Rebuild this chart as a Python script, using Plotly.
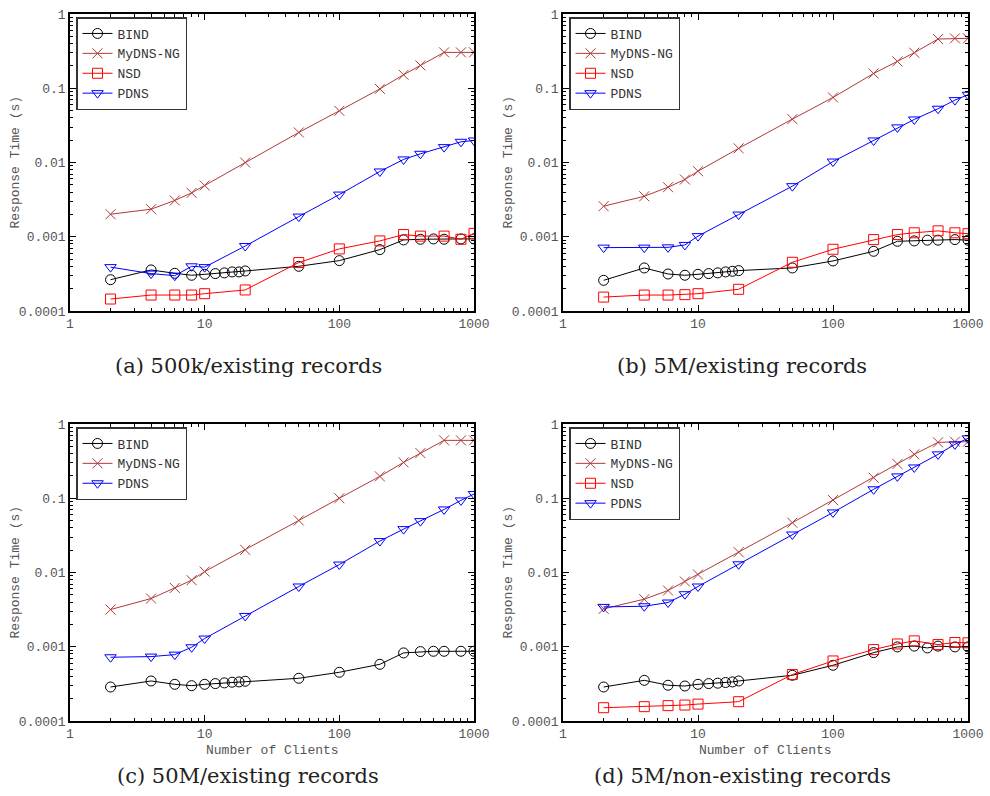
import plotly.graph_objects as go

# ---------------- data ----------------
x_bind = [2, 4, 6, 8, 10, 12, 14, 16, 18, 20, 50, 100, 200, 300, 400, 500, 600, 800, 1000]
x_other = [2, 4, 6, 8, 10, 20, 50, 100, 200, 300, 400, 600, 800, 1000]

# (a) 500k/existing records
a_bind = [0.000264, 0.000357, 0.000322, 0.000303, 0.000312, 0.000319, 0.000326, 0.000336, 0.000336, 0.000346,
          0.000400, 0.000477, 0.000671, 0.000906, 0.000925, 0.000935, 0.000925, 0.000935, 0.000935]
a_mydns = [0.00201, 0.00235, 0.00308, 0.0039, 0.0049, 0.0100, 0.0254, 0.0497, 0.098, 0.152, 0.203, 0.304, 0.304, 0.304]
a_nsd = [0.000145, 0.000164, 0.000164, 0.000164, 0.000171, 0.000192, 0.000449, 0.000686, 0.000879, 0.00107,
         0.00102, 0.00102, 0.000925, 0.00111]
a_pdns = [0.00039, 0.000319, 0.000299, 0.00040, 0.00039, 0.00075, 0.00187, 0.0037, 0.00757, 0.0110, 0.0131,
          0.0161, 0.0190, 0.0198]

# (b) 5M/existing records
b_bind = [0.000259, 0.000380, 0.000315, 0.000303, 0.000312, 0.000319, 0.000326, 0.000336, 0.000343, 0.000350,
          0.000380, 0.000472, 0.000637, 0.000869, 0.000879, 0.000900, 0.000900, 0.000916, 0.000900]
b_mydns = [0.00258, 0.00351, 0.00465, 0.0059, 0.00764, 0.0155, 0.0384, 0.0752, 0.158, 0.230, 0.301, 0.460, 0.470, 0.470]
b_nsd = [0.000154, 0.000164, 0.000164, 0.000166, 0.000171, 0.000196, 0.000453, 0.000678, 0.000916, 0.00107,
         0.00113, 0.00120, 0.00113, 0.00110]
b_pdns = [0.000714, 0.000714, 0.000720, 0.000776, 0.00102, 0.00199, 0.0048, 0.0103, 0.0198, 0.0297, 0.0380,
          0.0530, 0.0692, 0.0817]

# (c) 50M/existing records
c_bind = [0.000287, 0.000346, 0.000312, 0.000299, 0.000312, 0.000319, 0.000326, 0.000333, 0.000336, 0.000343,
          0.000376, 0.000453, 0.000580, 0.000826, 0.000861, 0.000869, 0.000869, 0.000869, 0.000869]
c_mydns = [0.00317, 0.00446, 0.0062, 0.00788, 0.0103, 0.0202, 0.0502, 0.100, 0.197, 0.304, 0.406, 0.602, 0.602, 0.602]
c_pdns = [0.000722, 0.000737, 0.000783, 0.000984, 0.00129, 0.0026, 0.00648, 0.0128, 0.0265, 0.0384, 0.0492,
          0.0707, 0.0935, 0.114]

# (d) 5M/non-existing records
d_bind = [0.000287, 0.000353, 0.000303, 0.000296, 0.000312, 0.000319, 0.000323, 0.000330, 0.000336, 0.000346,
          0.000413, 0.000563, 0.000834, 0.000995, 0.00102, 0.000964, 0.00102, 0.000995, 0.000995]
d_mydns = [0.00324, 0.00437, 0.00572, 0.00757, 0.0094, 0.0188, 0.0468, 0.0945, 0.189, 0.289, 0.390, 0.566, 0.578, 0.578]
d_nsd = [0.000151, 0.000156, 0.000161, 0.000164, 0.000169, 0.000182, 0.000422, 0.000644, 0.000916, 0.00109,
         0.00120, 0.00107, 0.00114, 0.00113]
d_pdns = [0.00344, 0.00351, 0.00394, 0.0051, 0.00648, 0.0129, 0.0325, 0.0644, 0.132, 0.197, 0.260, 0.390,
          0.532, 0.641]

captions = ["(a) 500k/existing records", "(b) 5M/existing records",
            "(c) 50M/existing records", "(d) 5M/non-existing records"]
x_title = "Number of Clients"
y_title = "Response Time (s)"

x_tickvals = [1, 10, 100, 1000]
x_ticktext = ["1", "10", "100", "1000"]
y_tickvals = [0.0001, 0.001, 0.01, 0.1, 1]
y_ticktext = ["0.0001", "0.001", "0.01", "0.1", "1"]
x_minor = [m * 10 ** e for e in range(0, 3) for m in range(2, 10)]
y_minor = [m * 10.0 ** e for e in range(-4, 0) for m in range(2, 10)]

# ---------------- styles ----------------
W, H = 990, 796
MONO = "Liberation Mono, DejaVu Sans Mono, monospace"
SERIF = "DejaVu Serif, Liberation Serif, serif"

styles = {
    "BIND": dict(color="#000000", symbol="circle-open", size=10),
    "MyDNS-NG": dict(color="#b03a3a", symbol="x-thin-open", size=10),
    "NSD": dict(color="#ff0000", symbol="square-open", size=10),
    "PDNS": dict(color="#0000ff", symbol="triangle-down-open", size=10),
}

panels = [
    dict(series=[("BIND", x_bind, a_bind), ("MyDNS-NG", x_other, a_mydns),
                 ("NSD", x_other, a_nsd), ("PDNS", x_other, a_pdns)],
         px=(70, 474), py=(14, 311), xtitle=False, cap=(248, 366)),
    dict(series=[("BIND", x_bind, b_bind), ("MyDNS-NG", x_other, b_mydns),
                 ("NSD", x_other, b_nsd), ("PDNS", x_other, b_pdns)],
         px=(563, 968), py=(14, 311), xtitle=False, cap=(742, 366)),
    dict(series=[("BIND", x_bind, c_bind), ("MyDNS-NG", x_other, c_mydns),
                 ("PDNS", x_other, c_pdns)],
         px=(70, 474), py=(424, 721), xtitle=True, cap=(248, 776)),
    dict(series=[("BIND", x_bind, d_bind), ("MyDNS-NG", x_other, d_mydns),
                 ("NSD", x_other, d_nsd), ("PDNS", x_other, d_pdns)],
         px=(563, 968), py=(424, 721), xtitle=True, cap=(742, 776)),
]

fig = go.Figure()
layout = dict(width=W, height=H, autosize=False, margin=dict(l=0, r=0, t=0, b=0, autoexpand=False),
              paper_bgcolor="white", plot_bgcolor="white", showlegend=True, annotations=[])

for i, p in enumerate(panels):
    n = "" if i == 0 else str(i + 1)
    legname = "legend" + n
    for name, xs, ys in p["series"]:
        st = styles[name]
        fig.add_trace(go.Scatter(
            x=xs, y=ys, name=name, mode="lines+markers",
            line=dict(color=st["color"], width=1),
            marker=dict(symbol=st["symbol"], size=st["size"], color=st["color"],
                        line=dict(color=st["color"], width=1)),
            xaxis="x" + n, yaxis="y" + n, legend=legname, showlegend=True,
        ))
    x0, x1 = p["px"]
    y0, y1 = p["py"]
    axcommon = dict(type="log", showgrid=False, zeroline=False, showline=True, linecolor="#000000",
                    linewidth=1.5, mirror="allticks", ticks="inside", ticklen=6, tickwidth=1,
                    tickcolor="#000000", tickmode="array", automargin=False,
                    tickfont=dict(family=MONO, size=13, color="#555555"))
    layout["xaxis" + n] = dict(
        axcommon, domain=[x0 / W, x1 / W], anchor="y" + n, range=[0, 3],
        tickvals=x_tickvals, ticktext=x_ticktext, ticklabelstandoff=0,
        minor=dict(tickmode="array", tickvals=x_minor, ticks="inside", ticklen=3,
                   tickcolor="#000000", showgrid=False),
    )
    layout["yaxis" + n] = dict(
        axcommon, domain=[1 - y1 / H, 1 - y0 / H], anchor="x" + n, range=[-4, 0],
        tickvals=y_tickvals, ticktext=y_ticktext,
        minor=dict(tickmode="array", tickvals=y_minor, ticks="inside", ticklen=3,
                   tickcolor="#000000", showgrid=False),
    )
    layout[legname] = dict(
        x=(x0 + 6) / W, y=1 - (y0 + 3) / H, xanchor="left", yanchor="top",
        bgcolor="white", bordercolor="#333333", borderwidth=1.5,
        font=dict(family=MONO, size=13, color="#333333"),
        tracegroupgap=0, itemwidth=30, traceorder="normal",
    )
    # y-axis title
    layout["annotations"].append(dict(
        text=y_title, x=(x0 - 55) / W, y=1 - (y0 + y1) / 2 / H, xref="paper", yref="paper",
        xanchor="center", yanchor="middle", textangle=-90, showarrow=False,
        font=dict(family=MONO, size=13, color="#555555"),
    ))
    if p["xtitle"]:
        layout["annotations"].append(dict(
            text=x_title, x=(x0 + x1) / 2 / W, y=1 - (y1 + 29) / H, xref="paper", yref="paper",
            xanchor="center", yanchor="middle", showarrow=False,
            font=dict(family=MONO, size=13, color="#555555"),
        ))
    cx, cy = p["cap"]
    layout["annotations"].append(dict(
        text=captions[i], x=cx / W, y=1 - cy / H,
        xref="paper", yref="paper", xanchor="center", yanchor="middle", showarrow=False,
        font=dict(family=SERIF, size=21, color="#222222"),
    ))

fig.update_layout(**layout)
fig.write_html("out.html", config={"displayModeBar": False},
               post_script="document.body.style.margin='0';document.body.style.overflow='hidden';")
